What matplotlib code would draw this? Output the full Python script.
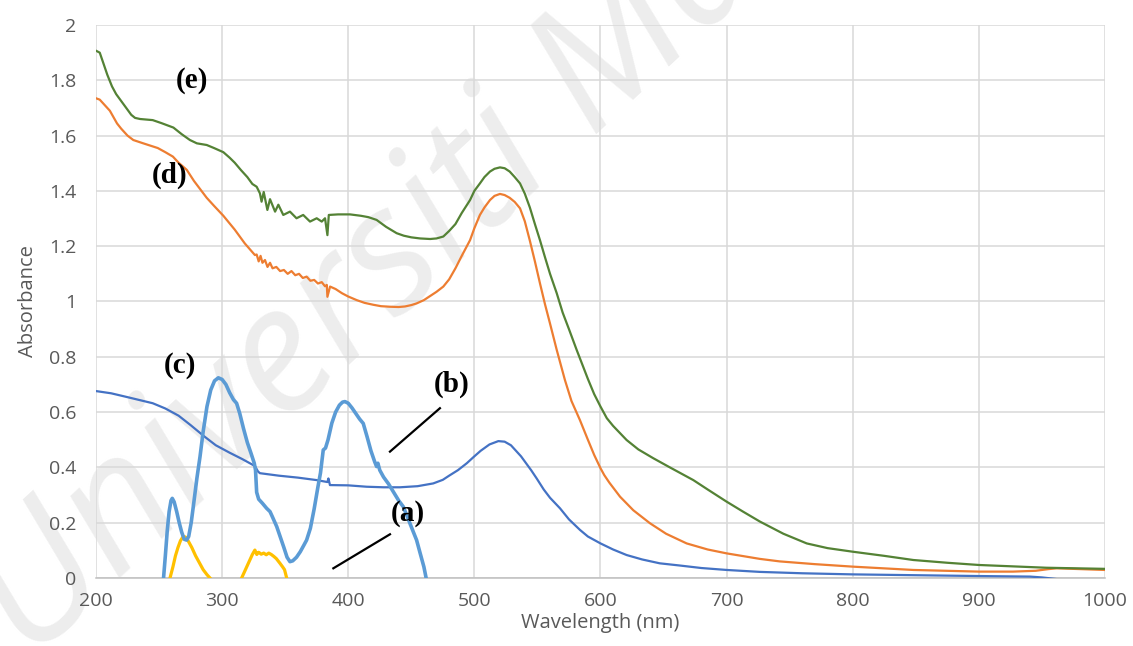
import matplotlib
matplotlib.use("Agg")
import matplotlib.pyplot as plt

# spectra (wavelength nm, absorbance)
wl_a = [258.7, 261, 263, 265, 267, 269.2, 271, 273, 276, 279, 282, 285, 288, 290.4, None,
        315.5, 318, 321, 324, 326, 327.5, 329, 331, 333, 335, 337, 339, 341, 343, 345.9, 348, 349.5, 351.2]
abs_a = [0.0, 0.04, 0.08, 0.11, 0.135, 0.15, 0.148, 0.135, 0.11, 0.08, 0.055, 0.03, 0.012, 0.0, None,
         0.0, 0.025, 0.055, 0.085, 0.101, 0.085, 0.093, 0.086, 0.09, 0.084, 0.09, 0.085, 0.078, 0.07, 0.053,
         0.04, 0.03, 0.0]

wl_b = [200, 212, 225, 235, 245, 255, 265.5, 275, 285.6, 295, 306, 316, 326, 328.5, 330,
        345, 360, 375, 383.5, 384.3, 385.5, 400, 414.6, 428, 441, 455, 467.4,
        475, 480, 487, 494, 500, 505, 512, 519, 524, 529, 533, 537, 541, 545, 549.4, 555, 560,
        567.9, 575, 583.7, 590, 600, 610, 620.7, 633, 647, 663, 680, 700, 726.4, 760, 800, 850,
        900, 940.6, 950, 961.8, 1000]
abs_b = [0.676, 0.668, 0.654, 0.643, 0.632, 0.613, 0.587, 0.553, 0.513, 0.48, 0.453, 0.43, 0.405, 0.385, 0.379,
         0.37, 0.363, 0.354, 0.347, 0.36, 0.336, 0.335, 0.33, 0.328, 0.328, 0.332, 0.342,
         0.355, 0.37, 0.39, 0.415, 0.44, 0.46, 0.483, 0.495, 0.493, 0.48, 0.46, 0.44, 0.415, 0.39, 0.36, 0.32, 0.29,
         0.252, 0.212, 0.174, 0.15, 0.125, 0.103, 0.083, 0.067, 0.053, 0.045, 0.036, 0.029, 0.022, 0.017, 0.013, 0.01,
         0.007, 0.005, 0.002, -0.004, -0.005]

wl_c = [253.4, 255, 256.5, 258, 259.5, 260.5, 262, 264, 266, 268, 270, 271.9, 273.5, 275.5, 277.5, 280,
        282.5, 285, 288, 291, 294, 297, 300, 303, 306, 309, 311.5, 314, 317, 320, 323, 325.5, 326.5,
        327.4, 329, 332, 335.3, 338, 340, 343.3, 346, 349, 351.5, 353.8, 356, 359, 362, 365, 367, 370,
        373, 376, 378, 380.2, 382, 384, 387, 390, 393, 395.5, 397.4, 400, 403, 406, 409, 411.9, 415,
        418, 421, 422.5, 423.5, 425, 428, 432, 436, 440, 443.6, 447, 450, 454.2, 457, 460, 462.2]
abs_c = [-0.01, 0.08, 0.17, 0.24, 0.28, 0.288, 0.275, 0.24, 0.2, 0.165, 0.14, 0.137, 0.15, 0.2, 0.27, 0.36,
         0.439, 0.53, 0.62, 0.68, 0.713, 0.724, 0.718, 0.7, 0.67, 0.645, 0.632, 0.595, 0.54, 0.49, 0.45, 0.415, 0.39,
         0.31, 0.285, 0.27, 0.252, 0.24, 0.22, 0.186, 0.15, 0.11, 0.075, 0.059, 0.062, 0.075, 0.095, 0.12, 0.137, 0.18,
         0.25, 0.33, 0.38, 0.463, 0.47, 0.5, 0.56, 0.6, 0.625, 0.636, 0.638, 0.632, 0.615, 0.595, 0.575, 0.559, 0.51,
         0.46, 0.42, 0.403, 0.415, 0.39, 0.365, 0.34, 0.31, 0.28, 0.258, 0.22, 0.185, 0.137, 0.09, 0.04, -0.01]

wl_d = [200, 203, 207, 211, 216.7, 220, 225, 229.6, 237.5, 249, 255, 261, 265.5, 272, 277.7, 282, 287.8,
        293.6, 301, 310, 318, 326, 327.4, 329, 330.5, 332, 334, 336, 338, 340, 343, 346, 349, 352, 355,
        358, 361, 364, 367, 370, 373, 376, 379, 381.6, 383, 383.5, 385.6, 390, 395, 400, 406.7, 413, 420,
        426, 433.1, 440, 445, 450, 454.2, 460, 465, 470, 475.4, 480, 485, 490, 496.6, 500, 504.4, 508,
        512.4, 516, 520.3, 524, 528, 532, 536.2, 540, 544, 548, 552, 556, 560, 565.3, 571.8, 577, 583.7,
        590, 595, 600, 603, 607, 615.5, 626, 639.2, 652, 668.3, 685, 700, 726.4, 742, 770, 800, 848, 900,
        927, 945, 955, 961.8, 1000]
abs_d = [1.735, 1.73, 1.71, 1.69, 1.644, 1.625, 1.6, 1.584, 1.572, 1.555, 1.54, 1.524, 1.502, 1.476, 1.436, 1.41,
         1.375, 1.346, 1.31, 1.26, 1.21, 1.168, 1.17, 1.145, 1.165, 1.14, 1.15, 1.125, 1.14, 1.12, 1.125, 1.11,
         1.114, 1.1, 1.11, 1.095, 1.1, 1.085, 1.09, 1.075, 1.078, 1.065, 1.07, 1.055, 1.06, 1.017, 1.054, 1.045,
         1.03, 1.018, 1.005, 0.995, 0.988, 0.983, 0.981, 0.98, 0.982, 0.987, 0.993, 1.005, 1.02, 1.035, 1.054,
         1.08, 1.12, 1.165, 1.222, 1.265, 1.313, 1.34, 1.367, 1.382, 1.389, 1.385, 1.375, 1.36, 1.337, 1.29,
         1.22, 1.145, 1.066, 0.99, 0.92, 0.825, 0.716, 0.64, 0.571, 0.5, 0.445, 0.397, 0.372, 0.345, 0.294,
         0.245, 0.198, 0.16, 0.125, 0.103, 0.089, 0.069, 0.06, 0.05, 0.041, 0.029, 0.023, 0.023, 0.026, 0.032,
         0.035, 0.029]

wl_e = [200, 203, 206, 209, 212.7, 216, 220, 224, 228, 231, 235, 245, 252, 261.4, 268, 274.5, 280,
        287.8, 293.6, 301, 306, 310, 315, 320, 324, 327.4, 330, 331.3, 333, 335.9, 338, 342, 344.6,
        348.5, 353.8, 359, 364.3, 369.7, 375, 379, 381.6, 383.5, 384.6, 392, 401.4, 410, 416, 422.5,
        430, 438.4, 444, 450, 457, 464.9, 470, 475.4, 480, 485, 490, 496.6, 500, 504.4, 508, 512.4,
        516, 520.3, 524, 528, 532, 536.2, 540, 544, 548, 552, 556, 560, 565.3, 570, 575, 581.1, 590,
        595, 600, 605, 610, 620.7, 630, 641.9, 655, 673.6, 685, 700, 713, 726.4, 745, 763.5, 780, 800,
        825, 848, 875, 900, 953.7, 1000]
abs_e = [1.907, 1.9, 1.86, 1.82, 1.778, 1.75, 1.725, 1.7, 1.675, 1.664, 1.66, 1.656, 1.645, 1.629, 1.605, 1.584,
         1.572, 1.566, 1.555, 1.54, 1.52, 1.502, 1.475, 1.45, 1.425, 1.415, 1.391, 1.361, 1.396, 1.331, 1.37,
         1.325, 1.35, 1.313, 1.325, 1.301, 1.313, 1.289, 1.301, 1.289, 1.301, 1.24, 1.313, 1.315, 1.315, 1.31,
         1.305, 1.295, 1.27, 1.247, 1.238, 1.232, 1.228, 1.226, 1.228, 1.235, 1.255, 1.28, 1.32, 1.367, 1.4,
         1.427, 1.45, 1.47, 1.48, 1.485, 1.482, 1.47, 1.45, 1.427, 1.39, 1.34, 1.28, 1.222, 1.16, 1.1, 1.03,
         0.96, 0.9, 0.825, 0.72, 0.665, 0.62, 0.578, 0.55, 0.499, 0.465, 0.433, 0.4, 0.354, 0.32, 0.276, 0.24,
         0.204, 0.16, 0.125, 0.108, 0.095, 0.08, 0.065, 0.055, 0.047, 0.037, 0.033]

# label text and where it sits (data coords)
labels = ["(a)", "(b)", "(c)", "(d)", "(e)"]
label_x = [447, 482, 266.6, 258.7, 275.9]
label_y = [0.235, 0.70, 0.77, 1.457, 1.80]
pointer_a = ([388.2, 433.1], [0.035, 0.158])
pointer_b = ([433.1, 472.7], [0.457, 0.614])

xticks = [200, 300, 400, 500, 600, 700, 800, 900, 1000]
yticks = [0, 0.2, 0.4, 0.6, 0.8, 1, 1.2, 1.4, 1.6, 1.8, 2]
ytick_labels = ["0", "0.2", "0.4", "0.6", "0.8", "1", "1.2", "1.4", "1.6", "1.8", "2"]

plt.rcParams['font.family'] = ['Open Sans', 'DejaVu Sans']

fig = plt.figure(figsize=(11.33, 6.46), dpi=100)
ax = fig.add_axes([0.0847, 0.1053, 0.8906, 0.856])
ax.set_facecolor('none')

# faint watermark behind the plot
fig.text(0.027, -0.025, "Universiti Malaya", fontsize=126, style='italic',
         color='#ededed', rotation=43, rotation_mode='anchor',
         ha='left', va='baseline', zorder=-1)

def split(xs, ys):
    # break a series at None
    segs, cx, cy = [], [], []
    for x, y in zip(xs, ys):
        if x is None:
            segs.append((cx, cy)); cx, cy = [], []
        else:
            cx.append(x); cy.append(y)
    segs.append((cx, cy))
    return segs

for sx, sy in split(wl_a, abs_a):
    ax.plot(sx, sy, color='#FFC000', lw=2.3, zorder=3)
ax.plot(wl_b, abs_b, color='#4472C4', lw=1.6, zorder=3)
ax.plot(wl_c, abs_c, color='#5B9BD5', lw=2.6, zorder=4)
ax.plot(wl_d, abs_d, color='#ED7D31', lw=1.6, zorder=3)
ax.plot(wl_e, abs_e, color='#548235', lw=1.6, zorder=3)

ax.plot(*pointer_a, color='black', lw=1.6, zorder=5)
ax.plot(*pointer_b, color='black', lw=1.6, zorder=5)

for t, x, y in zip(labels, label_x, label_y):
    ax.text(x, y, t, fontsize=21, fontweight='bold', family='Liberation Serif',
            ha='center', va='center', zorder=6)

ax.set_xlim(200, 1000)
ax.set_ylim(0, 2)
ax.set_xticks(xticks)
ax.set_yticks(yticks)
ax.set_yticklabels(ytick_labels)
ax.grid(True, color='#D9D9D9', lw=1.1, zorder=0)
ax.set_axisbelow(True)
for s in ['top', 'right', 'left']:
    ax.spines[s].set_visible(False)
ax.spines['bottom'].set_color('#BFBFBF')
ax.spines['bottom'].set_linewidth(1.1)
ax.tick_params(length=0, labelsize=14, colors='#595959')
ax.tick_params(axis='y', pad=14)
ax.tick_params(axis='x', pad=10)
ax.set_xlabel("Wavelength (nm)", fontsize=14.5, color='#595959', labelpad=2)
ax.set_ylabel("Absorbance", fontsize=14.5, color='#595959', labelpad=8)

fig.savefig("out.png", dpi=100)
